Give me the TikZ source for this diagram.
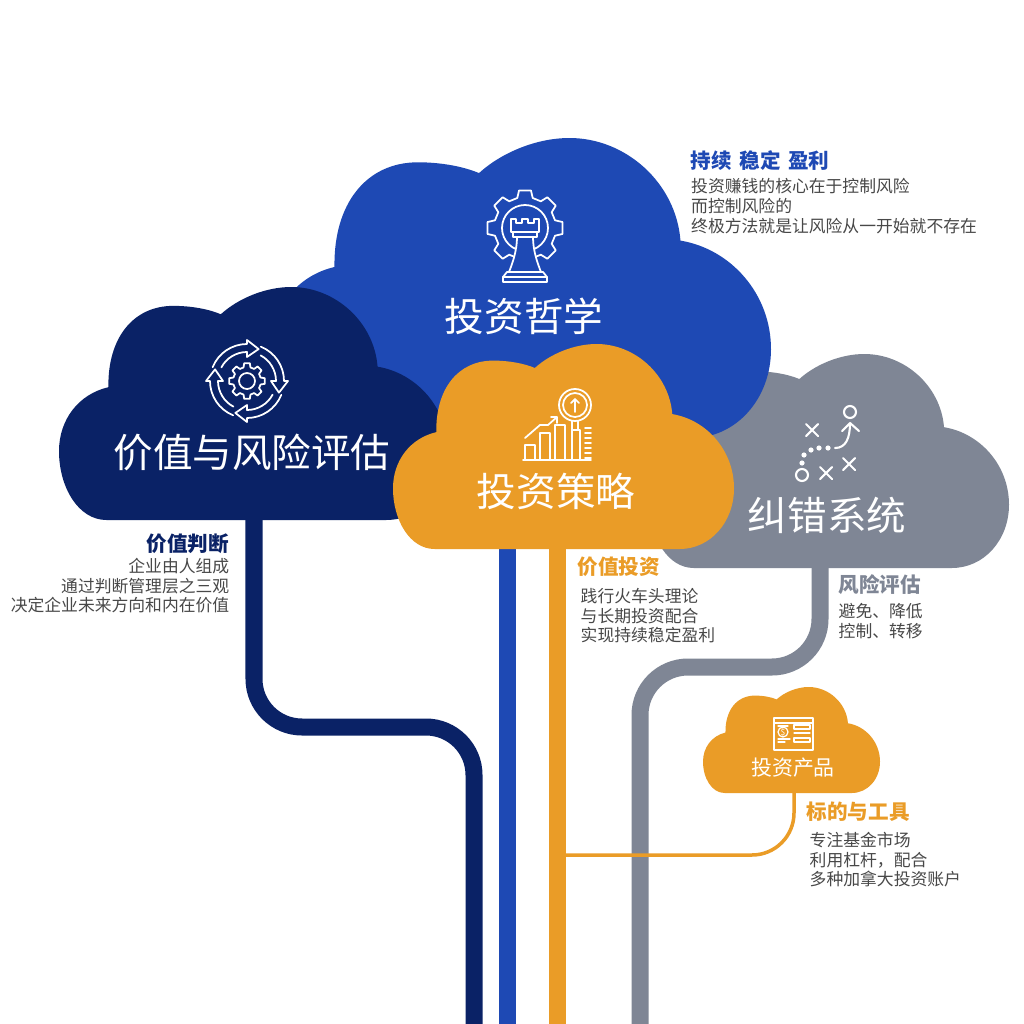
\documentclass[tikz,border=0pt]{standalone}
\usepackage{fontspec}
\setmainfont{Noto Sans CJK SC}
\definecolor{navycloud}{HTML}{0A2266}
\definecolor{bluecloud}{HTML}{1E49B4}
\definecolor{orangecloud}{HTML}{EA9C27}
\definecolor{greycloud}{HTML}{7F8695}
\definecolor{bodygrey}{HTML}{484848}
\tikzset{
  cloudtitle/.style={text=white, inner sep=0pt, font=\fontsize{11.25}{13}\selectfont},
  headtext/.style={inner sep=0pt, font=\fontsize{5.85}{7}\selectfont\bfseries},
  bodytext/.style={inner sep=0pt, text=bodygrey, font=\fontsize{4.78}{5.6}\selectfont},
  trunk/.style={line width=0.17cm, rounded corners=0.48cm},
  iconline/.style={draw=white, line width=0.5pt, line join=round, line cap=round}
}
% cloud outline: colour, left, top, width, height
\newcommand{\cloudfill}[5]{
  \fill[#1, shift={(#2,#3)}, xscale=#4, yscale=#5] (0.122,1)
    .. controls (0.05,1) and (0,0.86) .. (0,0.704)
    .. controls (0,0.57) and (0.05,0.46) .. (0.127,0.43)
    .. controls (0.125,0.22) and (0.19,0.081) .. (0.294,0.081)
    .. controls (0.34,0.081) and (0.385,0.095) .. (0.416,0.117)
    .. controls (0.46,0.05) and (0.53,0) .. (0.597,0)
    .. controls (0.71,0) and (0.81,0.15) .. (0.819,0.342)
    .. controls (0.92,0.37) and (1,0.52) .. (1,0.704)
    .. controls (1,0.87) and (0.93,1) .. (0.841,1) -- cycle;
}
% gear outline: outer radius, inner radius, teeth
\newcommand{\gearline}[3]{
  \pgfmathsetmacro{\gearstep}{360/#3}
  \draw[iconline] (-0.32*\gearstep:#2)
    \foreach \k in {1,...,#3} {
      -- (\k*\gearstep-\gearstep-0.2*\gearstep:#1)
      -- (\k*\gearstep-\gearstep+0.2*\gearstep:#1)
      -- (\k*\gearstep-\gearstep+0.32*\gearstep:#2)
      -- (\k*\gearstep-0.32*\gearstep:#2)
    } -- cycle;
}
\begin{document}
\begin{tikzpicture}[x=0.01cm, y=-0.01cm]
\fill[white] (0,0) rectangle (1024,1024);
\useasboundingbox (0,0) rectangle (1024,1024);

% Anchors of the trunks
\coordinate (navyroot) at (254,510);
\coordinate (navyleft) at (254,727);
\coordinate (navyright) at (474,727);
\coordinate (navyfoot) at (474,1024);
\coordinate (blueroot) at (507,540);
\coordinate (bluefoot) at (507,1024);
\coordinate (orangeroot) at (557,540);
\coordinate (orangefoot) at (557,1024);
\coordinate (greyroot) at (820,560);
\coordinate (greyright) at (820,667);
\coordinate (greyleft) at (640,667);
\coordinate (greyfoot) at (640,1024);
\coordinate (productroot) at (794,785);
\coordinate (productbend) at (794,855);
\coordinate (productfoot) at (560,855);

% Grey trunk and cloud
\draw[trunk, greycloud] (greyroot) -- (greyright) -- (greyleft) -- (greyfoot);
\cloudfill{greycloud}{650}{354}{359}{214}

% Blue cloud
\cloudfill{bluecloud}{271}{138}{500}{300}

% Navy trunk and cloud
\draw[trunk, navycloud] (navyroot) -- (navyleft) -- (navyright) -- (navyfoot);
\cloudfill{navycloud}{59}{287}{389}{233}

% Blue and orange trunks
\draw[trunk, bluecloud] (blueroot) -- (bluefoot);
\draw[trunk, orangecloud] (orangeroot) -- (orangefoot);
\draw[orangecloud, line width=0.035cm, rounded corners=0.42cm] (productroot) -- (productbend) -- (productfoot);

% Orange clouds
\cloudfill{orangecloud}{393}{344}{341}{205}
\cloudfill{orangecloud}{703}{687}{177}{106}

% Cloud titles
\node[cloudtitle] (philosophy) at (524,316) {投资哲学};
\node[cloudtitle] (valuation) at (252,452) {价值与风险评估};
\node[cloudtitle] (strategy) at (556,491) {投资策略};
\node[cloudtitle] (correction) at (827,515) {纠错系统};
\node[cloudtitle, font=\fontsize{5.95}{7}\selectfont] (product) at (793,768) {投资产品};

% Text blocks
\node[headtext, anchor=west, text=bluecloud] (philhead) at (690,161) {持续\hspace{0.03cm} 稳定\hspace{0.03cm} 盈利};
\node[bodytext, anchor=north west, align=left] (philbody) at (690.5,178) {投资赚钱的核心在于控制风险\\而控制风险的\\终极方法就是让风险从一开始就不存在};
\node[headtext, anchor=east, text=navycloud] (valuehead) at (229.5,544) {价值判断};
\node[bodytext, anchor=north east, align=right] (valuebody) at (230,557.5) {企业由人组成\\通过判断管理层之三观\\决定企业未来方向和内在价值};
\node[headtext, anchor=west, text=orangecloud] (stratehead) at (577,567) {价值投资};
\node[bodytext, anchor=north west, align=left] (stratebody) at (580,587.5) {践行火车头理论\\与长期投资配合\\实现持续稳定盈利};
\node[headtext, anchor=west, text=greycloud] (riskhead) at (838,585) {风险评估};
\node[bodytext, anchor=north west, align=left] (riskbody) at (838,603) {避免、降低\\控制、转移};
\node[headtext, anchor=west, text=orangecloud] (producthead) at (806,812) {标的与工具};
\node[bodytext, anchor=north west, align=left] (productbody) at (809,831.5) {专注基金市场\\利用杠杆，配合\\多种加拿大投资账户};

% Rook icon
\begin{scope}[shift={(525,228)}]
\gearline{38}{31}{8}
\draw[iconline, fill=bluecloud] (0,0) circle[radius=23];
\end{scope}
\draw[iconline, fill=bluecloud] (511,219) -- (516,219) -- (516,223) -- (522,223) -- (522,219) -- (528,219) -- (528,223) -- (534,223) -- (534,219) -- (539,219) -- (539,232) -- (511,232) -- cycle;
\draw[iconline, fill=bluecloud] (513,232) rectangle (537,237);
\draw[iconline, fill=bluecloud] (517,237) -- (533,237) .. controls (533,250) and (537,262) .. (541,272) -- (509,272) .. controls (513,262) and (517,250) .. (517,237) -- cycle;
\draw[iconline, fill=bluecloud] (507,272) -- (543,272) -- (547,277) -- (503,277) -- cycle;
\draw[iconline, fill=bluecloud] (503,277) rectangle (547,282);

% Cycle icon
\begin{scope}[shift={(247,381)}]
\gearline{18}{14}{8}
\draw[iconline] (0,0) circle[radius=8];
\foreach \a in {-90,0,90,180} {
  \draw[iconline] (\a:37) -- (\a:41) -- (\a+20:34) -- (\a:24) -- (\a:29)
    arc[start angle=\a, end angle=\a-62, radius=29]
    (\a-68:37) arc[start angle=\a-68, end angle=\a, radius=37];
}
\end{scope}

% Chart icon
\draw[iconline] (523,460) -- (591,460);
\draw[iconline] (525,460) -- (525,445) -- (535,445) -- (535,460);
\draw[iconline] (540,460) -- (540,433) -- (550,433) -- (550,460);
\draw[iconline] (555,460) -- (555,425) -- (565,425) -- (565,460);
\draw[iconline] (572,460) -- (572,430) -- (580,430) -- (580,460);
\draw[iconline] (525,438) -- (540,425) -- (548,425) -- (557,417) (551,417) -- (557,417) -- (557,423);
\draw[iconline] (575,405) circle[radius=16] (575,405) circle[radius=12];
\draw[iconline] (572,421) -- (572,430) (578,421) -- (578,430);
\draw[iconline] (575,412) -- (575,399) (571,403) -- (575,399) -- (579,403);
\foreach \y in {428,433,...,458} {
  \draw[iconline] (585,\y) -- (591,\y);
}

% Play icon
\draw[iconline, line width=0.6pt] (850,412) circle[radius=6] (802,475) circle[radius=6];
\draw[iconline, line width=0.6pt] (835,448) .. controls (846,448) and (850,438) .. (850,423) (842,431) -- (850,423) -- (859,431);
\foreach \px/\py in {828/448,819/448,811/450,804/455,802/463} {
  \fill[white] (\px,\py) circle[radius=2.6];
}
\foreach \px/\py in {812/430,826/473,849/464} {
  \draw[iconline, line width=0.6pt] (\px-6,\py-6) -- (\px+6,\py+6) (\px-6,\py+6) -- (\px+6,\py-6);
}

% Product icon
\draw[iconline, line width=0.35pt] (774,718) rectangle (813,750) (774,723) -- (813,723);
\draw[iconline, line width=0.35pt] (783,732) circle[radius=5];
\node[inner sep=0pt, text=white, font=\fontsize{2.4}{3}\selectfont] (coin) at (783,732) {\$};
\draw[iconline, line width=0.35pt] (778,726) -- (788,726) (778,739) -- (790,739) (778,742) -- (785,742);
\draw[iconline, line width=0.35pt] (794,725) rectangle (810,729) (794,733) -- (810,733) (794,738) rectangle (810,742);
\end{tikzpicture}
\end{document}
